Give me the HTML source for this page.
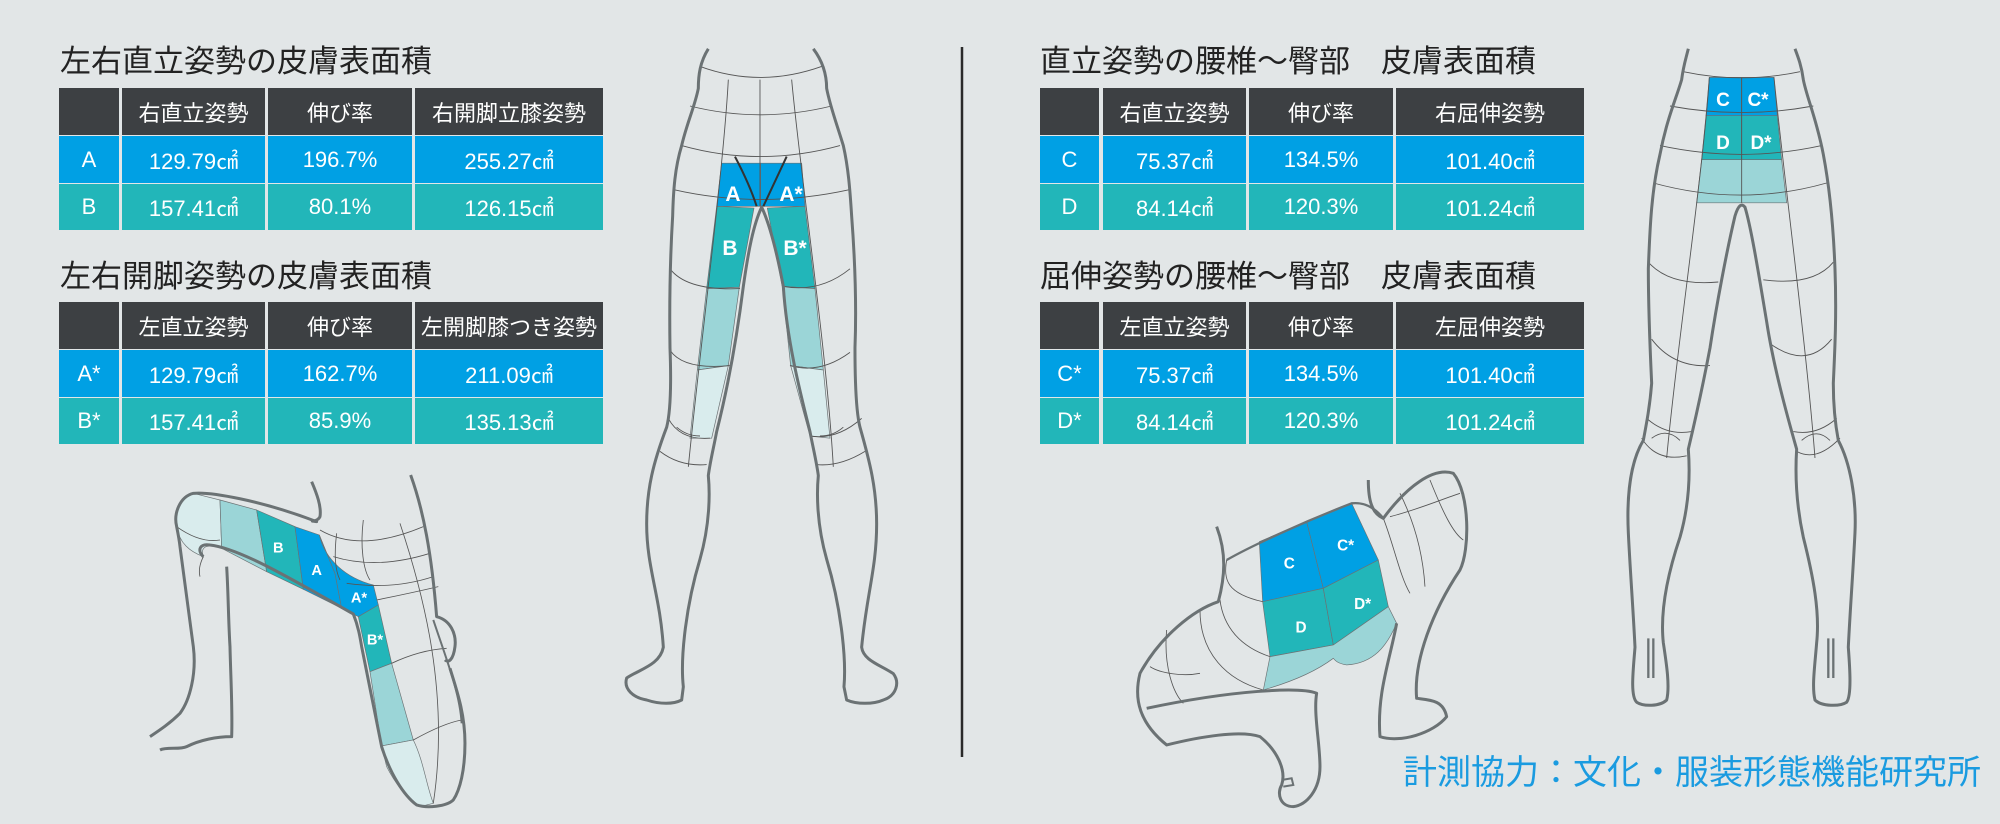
<!DOCTYPE html>
<html><head><meta charset="utf-8"><style>
*{margin:0;padding:0;box-sizing:border-box}
body{width:2000px;height:824px;background:#e2e6e7;position:relative;overflow:hidden;font-family:"Liberation Sans","Noto Sans CJK JP",sans-serif}
.t{position:absolute;font-size:31px;color:#222;white-space:nowrap;line-height:1}
.c{position:absolute;display:flex;align-items:center;justify-content:center;color:#fff;font-size:22px;white-space:nowrap}
.h{background:#3d4043;font-size:22px}
.b{background:#00a0e4}
.g{background:#22b6b9}
svg{position:absolute;left:0;top:0}
.ns *{vector-effect:non-scaling-stroke}
</style></head><body>
<div class="t" style="left:60px;top:46px">左右直立姿勢の皮膚表面積</div>
<div class="t" style="left:60px;top:261px">左右開脚姿勢の皮膚表面積</div>
<div class="t" style="left:1040px;top:46px">直立姿勢の腰椎～臀部　皮膚表面積</div>
<div class="t" style="left:1040px;top:261px">屈伸姿勢の腰椎～臀部　皮膚表面積</div>

<div class="c h" style="left:59px;top:88px;width:60px;height:47px"></div>
<div class="c h" style="left:122px;top:88px;width:143px;height:47px">右直立姿勢</div>
<div class="c h" style="left:268px;top:88px;width:144px;height:47px">伸び率</div>
<div class="c h" style="left:415px;top:88px;width:188px;height:47px">右開脚立膝姿勢</div>
<div class="c b" style="left:59px;top:136px;width:60px;height:47px">A</div>
<div class="c b" style="left:122px;top:136px;width:143px;height:47px">129.79㎠</div>
<div class="c b" style="left:268px;top:136px;width:144px;height:47px">196.7%</div>
<div class="c b" style="left:415px;top:136px;width:188px;height:47px">255.27㎠</div>
<div class="c g" style="left:59px;top:184px;width:60px;height:46px">B</div>
<div class="c g" style="left:122px;top:184px;width:143px;height:46px">157.41㎠</div>
<div class="c g" style="left:268px;top:184px;width:144px;height:46px">80.1%</div>
<div class="c g" style="left:415px;top:184px;width:188px;height:46px">126.15㎠</div>

<div class="c h" style="left:59px;top:302px;width:60px;height:47px"></div>
<div class="c h" style="left:122px;top:302px;width:143px;height:47px">左直立姿勢</div>
<div class="c h" style="left:268px;top:302px;width:144px;height:47px">伸び率</div>
<div class="c h" style="left:415px;top:302px;width:188px;height:47px">左開脚膝つき姿勢</div>
<div class="c b" style="left:59px;top:350px;width:60px;height:47px">A*</div>
<div class="c b" style="left:122px;top:350px;width:143px;height:47px">129.79㎠</div>
<div class="c b" style="left:268px;top:350px;width:144px;height:47px">162.7%</div>
<div class="c b" style="left:415px;top:350px;width:188px;height:47px">211.09㎠</div>
<div class="c g" style="left:59px;top:398px;width:60px;height:46px">B*</div>
<div class="c g" style="left:122px;top:398px;width:143px;height:46px">157.41㎠</div>
<div class="c g" style="left:268px;top:398px;width:144px;height:46px">85.9%</div>
<div class="c g" style="left:415px;top:398px;width:188px;height:46px">135.13㎠</div>

<div class="c h" style="left:1040px;top:88px;width:59px;height:47px"></div>
<div class="c h" style="left:1103px;top:88px;width:143px;height:47px">右直立姿勢</div>
<div class="c h" style="left:1249px;top:88px;width:144px;height:47px">伸び率</div>
<div class="c h" style="left:1396px;top:88px;width:188px;height:47px">右屈伸姿勢</div>
<div class="c b" style="left:1040px;top:136px;width:59px;height:47px">C</div>
<div class="c b" style="left:1103px;top:136px;width:143px;height:47px">75.37㎠</div>
<div class="c b" style="left:1249px;top:136px;width:144px;height:47px">134.5%</div>
<div class="c b" style="left:1396px;top:136px;width:188px;height:47px">101.40㎠</div>
<div class="c g" style="left:1040px;top:184px;width:59px;height:46px">D</div>
<div class="c g" style="left:1103px;top:184px;width:143px;height:46px">84.14㎠</div>
<div class="c g" style="left:1249px;top:184px;width:144px;height:46px">120.3%</div>
<div class="c g" style="left:1396px;top:184px;width:188px;height:46px">101.24㎠</div>

<div class="c h" style="left:1040px;top:302px;width:59px;height:47px"></div>
<div class="c h" style="left:1103px;top:302px;width:143px;height:47px">左直立姿勢</div>
<div class="c h" style="left:1249px;top:302px;width:144px;height:47px">伸び率</div>
<div class="c h" style="left:1396px;top:302px;width:188px;height:47px">左屈伸姿勢</div>
<div class="c b" style="left:1040px;top:350px;width:59px;height:47px">C*</div>
<div class="c b" style="left:1103px;top:350px;width:143px;height:47px">75.37㎠</div>
<div class="c b" style="left:1249px;top:350px;width:144px;height:47px">134.5%</div>
<div class="c b" style="left:1396px;top:350px;width:188px;height:47px">101.40㎠</div>
<div class="c g" style="left:1040px;top:398px;width:59px;height:46px">D*</div>
<div class="c g" style="left:1103px;top:398px;width:143px;height:46px">84.14㎠</div>
<div class="c g" style="left:1249px;top:398px;width:144px;height:46px">120.3%</div>
<div class="c g" style="left:1396px;top:398px;width:188px;height:46px">101.24㎠</div>

<div class="t" style="left:1403px;top:756px;font-size:34px;color:#1a9be0">計測協力：文化・服装形態機能研究所</div>

<svg width="2000" height="824" viewBox="0 0 2000 824">
<line x1="962" y1="47" x2="962" y2="757" stroke="#2a2a2a" stroke-width="2.5"/>

<!-- front legs -->
<g class="ns" transform="translate(620,40) scale(0.3333,0.44)">
<g stroke="#6b7274" stroke-width="0.7" stroke-linejoin="round">
<polygon fill="#00a0e4" points="305,280 422,280 422,378 290,378"/>
<polygon fill="#00a0e4" points="422,280 545,280 555,378 422,378"/>
<polygon fill="#22b6b9" points="290,378 402,382 358,562 260,565"/>
<polygon fill="#22b6b9" points="442,382 555,378 585,565 487,560"/>
<polygon fill="#9bd5d7" points="260,565 358,562 325,740 232,750"/>
<polygon fill="#9bd5d7" points="487,560 585,565 610,750 512,740"/>
<polygon fill="#d9eced" points="232,750 325,740 275,905 210,905"/>
<polygon fill="#d9eced" points="512,740 610,750 630,905 570,900"/>
</g>
<g fill="none" stroke="#555" stroke-width="0.9">
<path d="M240,60 Q420,110 605,60"/><path d="M210,150 Q420,190 635,150"/><path d="M185,240 Q420,290 660,240"/><path d="M160,340 Q420,385 690,340"/>
<path d="M150,520 Q200,570 360,565"/><path d="M490,560 Q600,575 690,520"/>
<path d="M150,705 Q190,750 330,740"/><path d="M510,740 Q600,760 690,710"/>
<path d="M145,860 Q180,910 270,905"/><path d="M570,900 Q650,910 725,860"/>
<path d="M120,935 Q180,970 260,965"/><path d="M590,965 Q660,970 735,935"/>
<path d="M325,90 C310,300 240,700 205,970"/><path d="M420,90 L420,378"/><path d="M515,90 C540,300 620,700 640,970"/>
<path d="M170,880 Q200,900 240,900"/><path d="M600,900 Q640,900 670,880"/>
</g>
<path d="M345,265 Q390,330 410,378 M500,265 Q460,330 430,378" fill="none" stroke="#333" stroke-width="2"/>
<path fill="none" stroke="#6b7274" stroke-width="3" stroke-linejoin="round" d="M265,20 C240,50 235,80 235,110 C225,150 200,190 185,240 C165,290 160,340 158,400 C150,500 148,600 150,700 C155,800 150,850 140,880 C100,960 80,1020 80,1100 C80,1200 120,1260 130,1380 C120,1420 60,1430 20,1450 C10,1475 40,1495 80,1500 C120,1510 160,1510 185,1500 L190,1470 C180,1400 200,1280 240,1180 C270,1100 270,1030 265,990 C270,960 280,930 290,890 C320,800 350,680 370,560 C385,480 400,420 425,380 C450,420 470,480 490,560 C500,680 540,800 570,890 C580,930 590,960 595,990 C590,1030 590,1100 620,1180 C660,1280 680,1400 672,1470 L680,1500 C710,1510 760,1510 790,1500 C830,1490 840,1460 820,1440 C780,1420 730,1410 725,1380 C740,1260 770,1200 770,1100 C770,1020 750,960 720,880 C710,850 705,800 705,700 C710,600 705,500 695,400 C690,340 685,290 670,240 C650,190 630,150 620,110 C620,80 610,50 580,20"/>
</g>
<g fill="#fff" font-weight="bold" font-size="21" text-anchor="middle" font-family="Liberation Sans,sans-serif">
<text x="733" y="201">A</text><text x="791" y="201">A*</text><text x="730" y="255">B</text><text x="795" y="255">B*</text></g>

<!-- back legs -->
<g class="ns" transform="translate(1620,40) scale(0.3333,0.44)">
<g stroke="#6b7274" stroke-width="0.7">
<polygon fill="#00a0e4" points="268,85 365,85 365,172 258,172"/>
<polygon fill="#00a0e4" points="365,85 462,85 472,172 365,172"/>
<polygon fill="#22b6b9" points="258,172 365,172 365,272 245,272"/>
<polygon fill="#22b6b9" points="365,172 472,172 485,272 365,272"/>
<polygon fill="#9bd5d7" points="245,272 485,272 500,370 230,370"/>
</g>
<g fill="none" stroke="#555" stroke-width="0.9">
<path d="M190,72 Q365,100 540,72"/><path d="M150,150 Q365,180 580,150"/><path d="M120,240 Q365,280 605,240"/><path d="M100,325 Q365,380 620,325"/>
<path d="M85,505 Q150,560 295,550"/><path d="M430,545 Q580,560 640,505"/>
<path d="M95,680 Q160,745 270,740"/><path d="M450,690 Q560,750 635,680"/>
<path d="M80,860 Q140,900 215,890"/><path d="M520,890 Q590,900 650,860"/>
<path d="M65,905 Q110,960 200,945"/><path d="M530,935 Q590,960 660,905"/>
<path d="M95,905 Q140,880 180,910"/><path d="M545,910 Q590,880 630,910"/>
<path d="M365,85 L365,370"/><path d="M268,85 C250,300 170,700 140,950"/><path d="M462,85 C490,300 560,700 585,950"/>
</g>
<path d="M85,1360 L85,1450 M100,1360 L100,1450 M625,1360 L625,1450 M640,1360 L640,1450" stroke="#6b7274" stroke-width="2.3"/>
<path fill="none" stroke="#6b7274" stroke-width="3" stroke-linejoin="round" d="M205,20 C195,50 190,60 185,90 C170,130 140,180 120,260 C95,340 90,420 85,520 C85,620 90,700 95,780 C90,830 80,870 70,910 C30,960 20,1040 25,1120 C30,1200 40,1300 45,1380 C40,1430 30,1490 50,1505 C70,1515 120,1515 140,1500 C150,1470 140,1420 130,1370 C120,1300 140,1220 180,1130 C210,1050 210,980 205,930 C230,850 250,780 270,700 C290,600 320,480 345,400 C355,375 365,370 375,380 C395,430 420,550 440,640 C460,740 500,850 530,930 C525,990 530,1060 550,1130 C580,1220 600,1300 590,1370 C585,1420 575,1470 585,1500 C605,1515 660,1515 680,1505 C695,1490 690,1430 685,1380 C690,1300 700,1200 705,1120 C710,1040 690,960 655,910 C645,870 640,830 640,780 C645,700 650,620 645,520 C640,420 630,340 610,260 C590,180 560,130 550,90 C545,60 535,40 525,20"/>
</g>
<g fill="#fff" font-weight="bold" font-size="19" text-anchor="middle" font-family="Liberation Sans,sans-serif">
<text x="1723" y="106">C</text><text x="1758" y="106">C*</text><text x="1723" y="149">D</text><text x="1761" y="149">D*</text></g>

<!-- kneeling -->
<g transform="translate(160,460) scale(0.3333)">
<g stroke="#6b7274" stroke-width="2">
<path fill="#d9eced" d="M100,100 C60,110 40,160 50,200 C58,250 90,275 130,290 C120,260 140,250 185,265 L180,120 Z"/>
<polygon fill="#9bd5d7" points="180,120 290,150 320,335 185,265"/>
<polygon fill="#22b6b9" points="290,150 405,200 430,388 320,335"/>
<polygon fill="#00a0e4" points="405,200 478,225 525,340 545,445 430,388"/>
<path fill="#00a0e4" d="M478,225 C495,300 560,355 640,375 L655,435 L595,470 L545,445 L525,340 Z"/>
<polygon fill="#22b6b9" points="595,470 655,435 695,610 630,635"/>
<polygon fill="#9bd5d7" points="630,635 695,610 760,840 665,858"/>
<path fill="#d9eced" d="M665,858 L760,840 C790,900 800,980 820,1030 L780,1040 C740,1020 700,960 680,920 Z"/>
</g>
<g fill="none" stroke="#555" stroke-width="2.5">
<path d="M480,210 Q600,280 790,200"/><path d="M520,290 Q650,330 810,280"/><path d="M560,370 Q700,390 820,350"/><path d="M650,420 Q750,400 835,380"/>
<path d="M695,610 Q780,570 860,565"/><path d="M760,840 Q850,790 905,780"/><path d="M720,190 C790,400 870,700 820,1030"/>
<path d="M530,220 C520,300 530,340 540,360"/><path d="M610,180 C600,260 610,330 630,360"/>
<path d="M130,290 C120,310 115,330 120,350"/><path d="M50,200 Q120,250 180,240"/>
</g>
<path fill="none" stroke="#6b7274" stroke-width="9" stroke-linejoin="round" d="M455,65 C470,100 485,140 480,170 C470,190 440,180 470,185 C300,120 150,95 100,100 C60,110 40,160 50,200 C58,240 60,260 60,260 C70,330 85,450 100,560 C110,640 90,720 60,760 C30,790 0,810 -30,830"/>
<path fill="none" stroke="#6b7274" stroke-width="9" stroke-linejoin="round" d="M130,290 C110,270 120,250 150,255 C240,265 400,360 580,462 C595,500 600,530 605,560 C625,660 645,760 665,860 C690,940 730,1005 770,1035 C800,1045 860,1040 880,1020 C900,990 915,930 915,850 C915,760 890,690 870,625"/>
<path fill="none" stroke="#6b7274" stroke-width="9" stroke-linejoin="round" d="M752,45 C790,150 815,280 830,470 C870,480 890,520 885,560 C880,600 865,610 855,600"/>
<path fill="none" stroke="#6b7274" stroke-width="9" stroke-linejoin="round" d="M200,320 C205,400 205,480 210,560 C212,650 218,750 215,830 C170,830 120,840 80,860 C60,870 20,860 0,870"/>
<path fill="none" stroke="#6b7274" stroke-width="6" d="M820,480 C860,600 900,700 905,790"/>
<g fill="#fff" font-weight="bold" font-size="44" text-anchor="middle" font-family="Liberation Sans,sans-serif">
<text x="355" y="278">B</text><text x="470" y="345">A</text><text x="597" y="428">A*</text><text x="645" y="553">B*</text></g>
</g>

<!-- squatting -->
<g transform="translate(1100,460) scale(0.3333)">
<g stroke="#6b7274" stroke-width="2">
<polygon fill="#00a0e4" points="478,245 620,185 670,385 488,425"/>
<polygon fill="#00a0e4" points="620,185 755,130 835,300 670,385"/>
<polygon fill="#22b6b9" points="488,425 670,385 700,555 510,590"/>
<polygon fill="#22b6b9" points="670,385 835,300 865,440 700,555"/>
<path fill="#9bd5d7" d="M510,590 L700,555 L865,440 L890,490 C860,560 820,610 740,615 C710,610 705,600 700,595 C640,640 560,670 490,690 Z"/>
</g>
<g fill="none" stroke="#555" stroke-width="2.5">
<path d="M380,300 C370,360 380,400 488,425"/><path d="M360,420 C370,500 420,560 510,590"/><path d="M300,450 C300,580 380,660 490,690"/>
<path d="M200,510 C190,620 220,700 250,730"/><path d="M150,620 C180,640 250,650 300,640"/>
<path d="M850,175 C880,250 900,350 930,400"/><path d="M900,100 C950,200 970,300 975,380"/>
<path d="M870,170 C950,150 1020,120 1080,100"/><path d="M990,60 C1030,160 1060,220 1090,240"/>
</g>
<path fill="none" stroke="#6b7274" stroke-width="9" stroke-linejoin="round" d="M350,200 C380,280 375,350 355,425 C280,450 180,530 120,640 C100,720 120,790 200,855 C300,830 420,810 480,830 C530,870 560,930 545,975 C530,1000 540,1040 580,1040 C620,1035 660,990 660,920 C660,850 640,760 650,700 C600,680 400,690 140,745"/>
<path fill="none" stroke="#6b7274" stroke-width="7" d="M380,300 C450,260 600,190 755,130 C800,125 830,150 850,175"/>
<path fill="none" stroke="#6b7274" stroke-width="9" stroke-linejoin="round" d="M805,60 C805,120 815,160 850,175 C920,80 1000,20 1060,40 C1110,100 1110,270 1080,330 C1000,450 940,600 950,715 C990,720 1030,720 1040,770 C1000,820 900,850 840,830 C830,700 870,600 890,490"/>
<path fill="none" stroke="#6b7274" stroke-width="6" d="M545,960 L575,955 L580,975 L550,980"/>
<g fill="#fff" font-weight="bold" font-size="46" text-anchor="middle" font-family="Liberation Sans,sans-serif">
<text x="568" y="325">C</text><text x="737" y="272">C*</text><text x="603" y="517">D</text><text x="788" y="447">D*</text></g>
</g>
</svg>
</body></html>
